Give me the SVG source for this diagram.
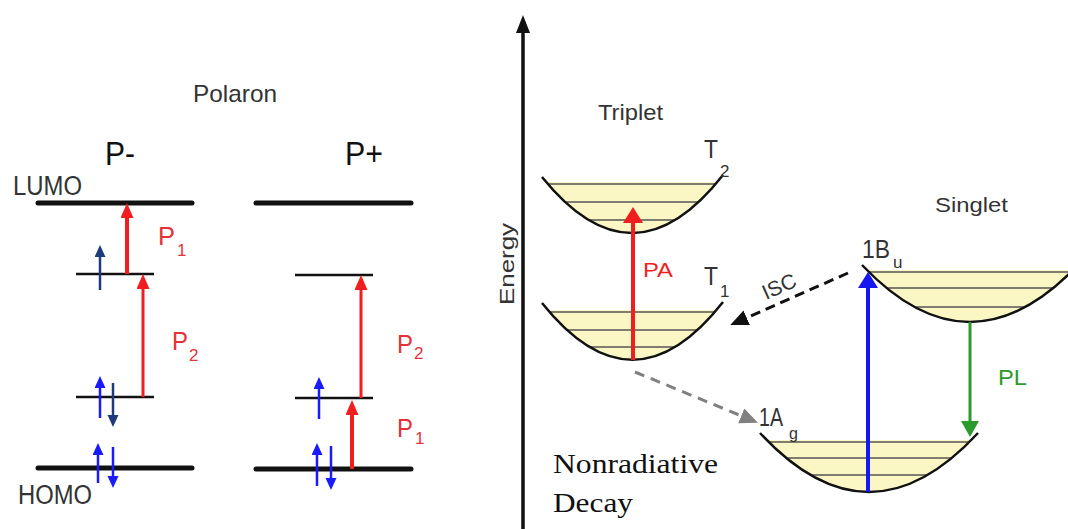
<svg xmlns="http://www.w3.org/2000/svg" width="1068" height="529" viewBox="0 0 1068 529">
<style>
  text { font-family: "Liberation Sans", Arial, sans-serif; }
  .serif { font-family: "Liberation Serif", "Times New Roman", serif; fill: #111; }
  .gray { fill: #333; }
  .red { fill: #e5323a; }
  .lvl-thick { stroke: #111; stroke-width: 5; stroke-linecap: round; }
  .lvl-thin { stroke: #111; stroke-width: 2.5; }
  .red-arr { stroke: #f01e1e; fill: none; }
  .spin { stroke-width: 2.5; fill: none; }
  .well { fill: none; stroke: #111; stroke-width: 2.5; }
  .vib { stroke: #555; stroke-width: 1.5; }
  .yel { fill: #fbf7c4; }
</style>
<defs>
  <marker id="mRed" markerUnits="userSpaceOnUse" markerWidth="16" markerHeight="14" refX="3" refY="6.5" orient="auto" viewBox="0 0 16 14"><path d="M0,0 L15,6.5 L0,13 z" fill="#f01e1e"/></marker>
  <marker id="mRedBig" markerUnits="userSpaceOnUse" markerWidth="17" markerHeight="21" refX="3" refY="10" orient="auto" viewBox="0 0 17 21"><path d="M0,0 L16,10 L0,20 z" fill="#f01e1e"/></marker>
  <marker id="mBlueBig" markerUnits="userSpaceOnUse" markerWidth="17" markerHeight="21" refX="3" refY="10" orient="auto" viewBox="0 0 17 21"><path d="M0,0 L16,10 L0,20 z" fill="#1616f0"/></marker>
  <marker id="mGreen" markerUnits="userSpaceOnUse" markerWidth="17" markerHeight="19" refX="3" refY="9" orient="auto" viewBox="0 0 17 19"><path d="M0,0 L16,9 L0,18 z" fill="#2c9a2c"/></marker>
  <marker id="mNavy" markerUnits="userSpaceOnUse" markerWidth="13" markerHeight="12" refX="2" refY="5.5" orient="auto" viewBox="0 0 13 12"><path d="M0,0 L12,5.5 L0,11 z" fill="#1f3a7a"/></marker>
  <marker id="mBlue" markerUnits="userSpaceOnUse" markerWidth="13" markerHeight="12" refX="2" refY="5.5" orient="auto" viewBox="0 0 13 12"><path d="M0,0 L12,5.5 L0,11 z" fill="#1a1aff"/></marker>
  <marker id="mBlack" markerUnits="userSpaceOnUse" markerWidth="19" markerHeight="17" refX="3" refY="8" orient="auto" viewBox="0 0 19 17"><path d="M0,0 L18,8 L0,16 z" fill="#111"/></marker>
  <marker id="mGrey" markerUnits="userSpaceOnUse" markerWidth="19" markerHeight="17" refX="3" refY="8" orient="auto" viewBox="0 0 19 17"><path d="M0,0 L18,8 L0,16 z" fill="#808080"/></marker>
  <marker id="mAxis" markerUnits="userSpaceOnUse" markerWidth="19" markerHeight="15" refX="3" refY="7" orient="auto" viewBox="0 0 19 15"><path d="M0,0 L18,7 L0,14 z" fill="#111"/></marker>
  <clipPath id="cT2"><path d="M542,177 Q633,290 723,175 Z"/></clipPath>
  <clipPath id="cT1"><path d="M542,303 Q633,417 723,302 Z"/></clipPath>
  <clipPath id="cAg"><path d="M760,433 Q869,551 978,433 Z"/></clipPath>
  <clipPath id="cBu"><path d="M862,265 Q970,379 1078,265 Z"/></clipPath>
</defs>

<rect width="1068" height="529" fill="#fff"/>

<!-- Left panel: polaron levels -->
<g id="polaron-title">
  <text x="193" y="102" font-size="24" class="gray" textLength="84" lengthAdjust="spacingAndGlyphs">Polaron</text>
</g>
<g id="labels-left">
  <text x="105" y="165" font-size="33" fill="#111" textLength="30" lengthAdjust="spacingAndGlyphs">P-</text>
  <text x="345" y="165" font-size="33" fill="#111" textLength="38" lengthAdjust="spacingAndGlyphs">P+</text>
  <text x="13" y="195" font-size="27" class="gray" textLength="69" lengthAdjust="spacingAndGlyphs">LUMO</text>
  <text x="18" y="504" font-size="27" class="gray" textLength="74" lengthAdjust="spacingAndGlyphs">HOMO</text>
</g>

<g id="pminus">
  <line class="lvl-thick" x1="38" y1="203" x2="192" y2="203"/>
  <line class="lvl-thin" x1="76" y1="274" x2="154" y2="274"/>
  <line class="lvl-thin" x1="76" y1="397" x2="154" y2="397"/>
  <line class="lvl-thick" x1="38" y1="468" x2="192" y2="468"/>
</g>
<g id="pplus">
  <line class="lvl-thick" x1="256" y1="203" x2="411" y2="203"/>
  <line class="lvl-thin" x1="295" y1="275" x2="373" y2="275"/>
  <line class="lvl-thin" x1="295" y1="398" x2="373" y2="398"/>
  <line class="lvl-thick" x1="256" y1="469" x2="411" y2="469"/>
</g>

<g id="spins">
  <line class="spin" stroke="#1f3a7a" x1="100" y1="290" x2="100" y2="255" marker-end="url(#mNavy)"/>
  <line class="spin" stroke="#1a1aff" x1="100" y1="418" x2="100" y2="386" marker-end="url(#mBlue)"/>
  <line class="spin" stroke="#1f3a7a" x1="113" y1="383" x2="113" y2="417" marker-end="url(#mNavy)"/>
  <line class="spin" stroke="#1a1aff" x1="98" y1="483" x2="98" y2="453" marker-end="url(#mBlue)"/>
  <line class="spin" stroke="#1a1aff" x1="113" y1="447" x2="113" y2="478" marker-end="url(#mBlue)"/>
  <line class="spin" stroke="#1a1aff" x1="319" y1="419" x2="319" y2="387" marker-end="url(#mBlue)"/>
  <line class="spin" stroke="#1a1aff" x1="317" y1="486" x2="317" y2="453" marker-end="url(#mBlue)"/>
  <line class="spin" stroke="#1a1aff" x1="331" y1="446" x2="331" y2="480" marker-end="url(#mBlue)"/>
</g>

<g id="transitions-left">
  <line class="red-arr" stroke-width="4" x1="127" y1="274" x2="127" y2="215" marker-end="url(#mRed)"/>
  <line class="red-arr" stroke-width="3" x1="143" y1="397" x2="143" y2="286" marker-end="url(#mRed)"/>
  <line class="red-arr" stroke-width="3" x1="361" y1="398" x2="361" y2="287" marker-end="url(#mRed)"/>
  <line class="red-arr" stroke-width="4" x1="352" y1="469" x2="352" y2="412" marker-end="url(#mRed)"/>
  <text class="red" x="158" y="245" font-size="26" textLength="17" lengthAdjust="spacingAndGlyphs">P</text>
  <text class="red" x="177" y="256" font-size="17">1</text>
  <text class="red" x="172" y="350" font-size="26" textLength="16" lengthAdjust="spacingAndGlyphs">P</text>
  <text class="red" x="189" y="361" font-size="17">2</text>
  <text class="red" x="397" y="353" font-size="26" textLength="16" lengthAdjust="spacingAndGlyphs">P</text>
  <text class="red" x="414" y="359" font-size="17">2</text>
  <text class="red" x="397" y="437" font-size="26" textLength="16" lengthAdjust="spacingAndGlyphs">P</text>
  <text class="red" x="415" y="444" font-size="17">1</text>
</g>

<!-- Right panel -->
<g id="energy-axis">
  <line x1="523" y1="529" x2="523" y2="30" stroke="#111" stroke-width="3.5" marker-end="url(#mAxis)"/>
  <text transform="translate(514,264) rotate(-90)" text-anchor="middle" font-size="20" class="gray" textLength="82" lengthAdjust="spacingAndGlyphs">Energy</text>
</g>

<g id="triplet-T2">
  <text x="598" y="120" font-size="22" class="gray" textLength="65" lengthAdjust="spacingAndGlyphs">Triplet</text>
  <g clip-path="url(#cT2)">
    <rect class="yel" x="540" y="182" width="190" height="60"/>
    <line class="vib" x1="540" y1="184" x2="730" y2="184"/>
    <line class="vib" x1="540" y1="202" x2="730" y2="202"/>
    <line class="vib" x1="540" y1="220" x2="730" y2="220"/>
  </g>
  <path class="well" d="M542,177 Q633,290 723,175"/>
  <text x="704" y="158" font-size="26" class="gray" textLength="14" lengthAdjust="spacingAndGlyphs">T</text>
  <text x="720" y="177" font-size="17" class="gray">2</text>
</g>

<g id="triplet-T1">
  <g clip-path="url(#cT1)">
    <rect class="yel" x="540" y="310" width="190" height="60"/>
    <line class="vib" x1="540" y1="312" x2="730" y2="312"/>
    <line class="vib" x1="540" y1="330" x2="730" y2="330"/>
    <line class="vib" x1="540" y1="347" x2="730" y2="347"/>
  </g>
  <path class="well" d="M542,303 Q633,417 723,302"/>
  <text x="704" y="285" font-size="26" class="gray" textLength="14" lengthAdjust="spacingAndGlyphs">T</text>
  <text x="720" y="297" font-size="17" class="gray">1</text>
</g>

<g id="singlet-1Ag">
  <g clip-path="url(#cAg)">
    <rect class="yel" x="758" y="440" width="225" height="60"/>
    <line class="vib" x1="758" y1="442" x2="983" y2="442"/>
    <line class="vib" x1="758" y1="458" x2="983" y2="458"/>
    <line class="vib" x1="758" y1="475" x2="983" y2="475"/>
  </g>
  <path class="well" d="M760,433 Q869,551 978,433"/>
  <text x="759" y="426" font-size="26" class="gray" textLength="24" lengthAdjust="spacingAndGlyphs">1A</text>
  <text x="789" y="439" font-size="16" class="gray">g</text>
</g>

<g id="singlet-1Bu">
  <text x="935" y="212" font-size="21" class="gray" textLength="73" lengthAdjust="spacingAndGlyphs">Singlet</text>
  <g clip-path="url(#cBu)">
    <rect class="yel" x="860" y="270" width="220" height="60"/>
    <line class="vib" x1="860" y1="272" x2="1080" y2="272"/>
    <line class="vib" x1="860" y1="288" x2="1080" y2="288"/>
    <line class="vib" x1="860" y1="307" x2="1080" y2="307"/>
  </g>
  <path class="well" d="M862,265 Q970,379 1078,265"/>
  <text x="862" y="258" font-size="26" class="gray" textLength="28" lengthAdjust="spacingAndGlyphs">1B</text>
  <text x="893" y="268" font-size="17" class="gray">u</text>
</g>

<g id="connectors">
  <line x1="633" y1="360" x2="633" y2="220" stroke="#f01e1e" stroke-width="4" marker-end="url(#mRedBig)"/>
  <line x1="868" y1="492" x2="868" y2="285" stroke="#1616f0" stroke-width="4" marker-end="url(#mBlueBig)"/>
  <line x1="970" y1="322" x2="970" y2="424" stroke="#2c9a2c" stroke-width="3" marker-end="url(#mGreen)"/>
  <line x1="848" y1="273" x2="744" y2="319" stroke="#111" stroke-width="3" stroke-dasharray="10 6" marker-end="url(#mBlack)"/>
  <line x1="635" y1="372" x2="744" y2="417" stroke="#808080" stroke-width="3" stroke-dasharray="10 7" marker-end="url(#mGrey)"/>
  <text x="643" y="277" font-size="20" fill="#f01e1e" textLength="30" lengthAdjust="spacingAndGlyphs">PA</text>
  <text x="998" y="385" font-size="22" fill="#2c9a2c" textLength="29" lengthAdjust="spacingAndGlyphs">PL</text>
  <text transform="translate(782,293) rotate(-24)" text-anchor="middle" font-size="21" class="gray">ISC</text>
</g>

<g id="nonradiative-label">
  <text class="serif" x="553" y="473" font-size="28" textLength="165" lengthAdjust="spacingAndGlyphs">Nonradiative</text>
  <text class="serif" x="553" y="512" font-size="28" textLength="80" lengthAdjust="spacingAndGlyphs">Decay</text>
</g>
</svg>
